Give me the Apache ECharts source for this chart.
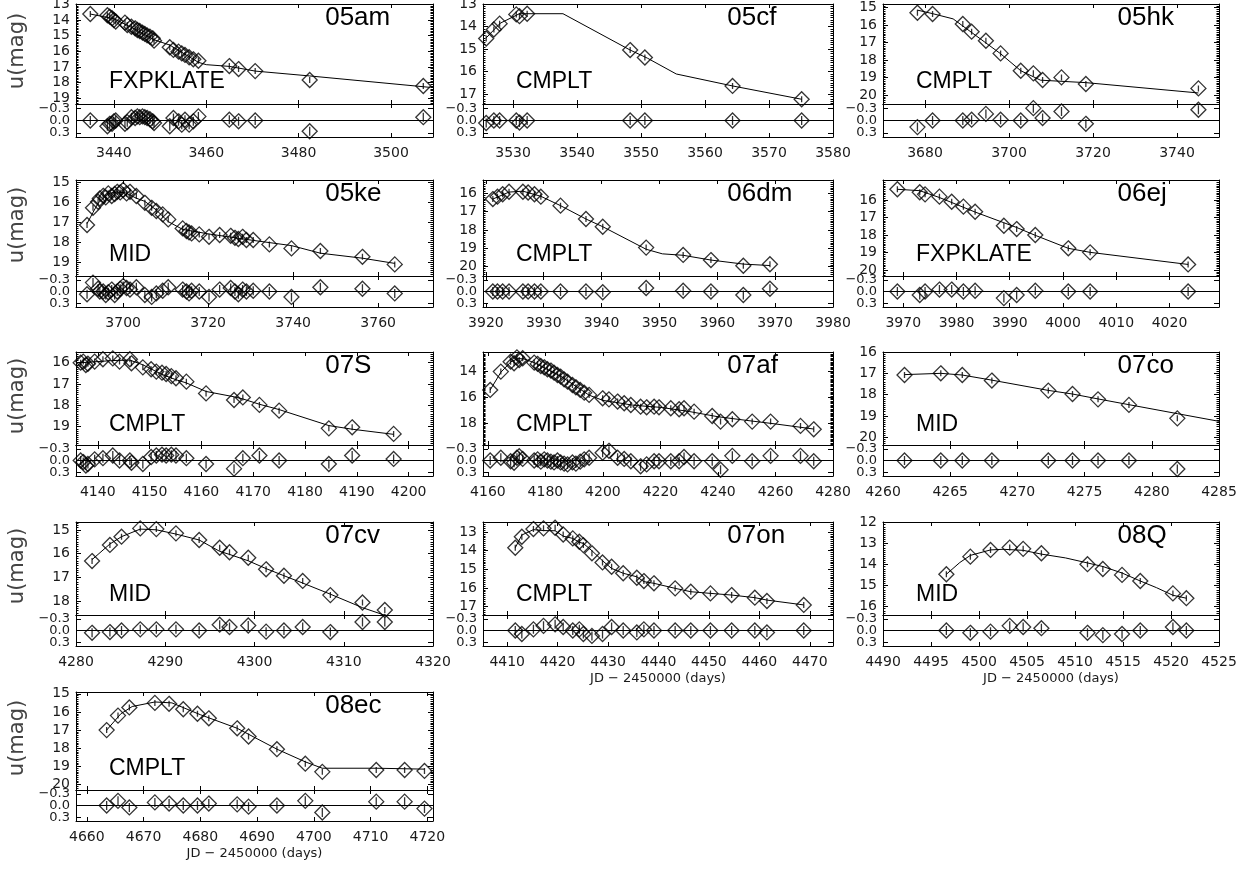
<!DOCTYPE html>
<html><head><meta charset="utf-8">
<script src="https://cdn.jsdelivr.net/npm/echarts@6/dist/echarts.min.js"></script>
<style>html,body{margin:0;padding:0;background:#fff}#c{width:1255px;height:873px}</style>
</head><body><div id="c"></div>
<script>
// ---------------- DATA ----------------
const x05am = [3434.9,3438.6,3439.1,3439.6,3440.0,3440.4,3442.4,3442.9,3443.8,3444.6,3445.1,3445.6,3446.2,3446.7,3447.2,3447.8,3448.4,3448.7,3452.1,3452.9,3454.0,3454.7,3455.4,3456.3,3457.2,3458.3,3465.0,3467.0,3470.6,3482.4,3507.0];
const m05am = [13.62,13.70,13.79,13.89,14.0,14.1,14.17,14.32,14.43,14.53,14.64,14.70,14.81,14.89,14.98,15.06,15.17,15.32,15.74,15.91,16.02,16.13,16.23,16.38,16.51,16.60,16.94,17.13,17.26,17.83,18.21];
const r05am = [0.0,0.14,0.08,0.08,0.02,0.0,0.08,0.04,-0.08,-0.06,-0.1,-0.08,-0.1,-0.08,-0.06,-0.03,0.02,0.06,0.14,-0.06,0.02,0.1,-0.02,0.1,0.02,-0.1,-0.02,0.02,0.0,0.26,-0.08];
const fx05am = [3434.9,3440,3444,3448.7,3452.1,3458.3,3460,3465,3470.6,3482.4,3508.5];
const fm05am = [13.62,13.92,14.5,15.26,15.6,16.7,16.85,16.96,17.26,17.57,18.3];
const x05cf = [3525.8,3527.0,3527.9,3530.5,3531.0,3532.2,3548.3,3550.6,3564.3,3575.1];
const m05cf = [14.53,14.13,13.87,13.46,13.54,13.43,15.04,15.37,16.63,17.22];
const r05cf = [0.06,0.0,0.0,0.0,0.05,0.0,0.0,0.0,0.0,0.0];
const fx05cf = [3525.8,3528,3531,3537.8,3548.3,3551,3555.5,3564.3,3575.1];
const fm05cf = [14.5,13.85,13.43,13.43,15.04,15.4,16.1,16.63,17.22];
const x05hk = [3678.2,3681.8,3689.0,3691.1,3694.5,3698.0,3702.8,3705.8,3708.0,3712.5,3718.3,3745.1];
const m05hk = [15.3,15.37,15.94,16.38,16.9,17.62,18.61,18.76,19.14,18.99,19.37,19.62];
const r05hk = [0.16,0.0,0.0,-0.02,-0.16,-0.02,0.0,-0.3,-0.06,-0.22,0.08,-0.26];
const fx05hk = [3678.2,3681.8,3686.7,3698.0,3702.8,3707.5,3718.3,3745.1];
const fm05hk = [15.15,15.35,15.65,17.64,18.61,19.15,19.29,19.88];
const x05ke = [3691.5,3692.9,3694.1,3694.5,3695.3,3695.9,3696.5,3697.3,3698.0,3698.6,3699.3,3700.0,3700.8,3701.6,3703.1,3705.1,3706.7,3707.8,3709.3,3710.6,3714.0,3714.9,3715.5,3716.1,3717.9,3720.2,3722.7,3725.3,3726.3,3727.1,3728.1,3729.0,3730.6,3734.4,3739.6,3746.4,3756.3,3763.9];
const m05ke = [17.13,16.27,15.97,15.8,15.67,15.75,15.55,15.68,15.58,15.47,15.5,15.38,15.55,15.47,15.68,16.02,16.27,16.43,16.6,16.85,17.3,17.43,17.5,17.55,17.6,17.72,17.63,17.67,17.77,17.83,17.72,17.88,17.88,18.1,18.3,18.43,18.72,19.1];
const r05ke = [0.07,-0.23,-0.07,0.0,0.0,0.09,0.02,-0.05,0.09,0.0,-0.07,-0.14,-0.09,-0.05,-0.11,0.09,0.14,0.05,-0.02,-0.11,-0.05,0.0,0.05,-0.02,0.0,0.14,-0.05,-0.09,0.0,0.07,-0.05,0.0,-0.02,0.0,0.14,-0.11,-0.07,0.05];
const fx05ke = [3691.5,3692.9,3694.1,3696.5,3698.5,3700.5,3703.1,3705.1,3707.8,3710.6,3714.0,3720.2,3730.6,3739.6,3746.4,3756.3,3763.9];
const fm05ke = [17.06,16.5,16.04,15.56,15.48,15.52,15.79,15.95,16.38,16.96,17.35,17.58,17.9,18.16,18.54,18.79,19.05];
const x06dm = [3921.2,3922.0,3922.9,3924.0,3926.4,3927.3,3928.4,3929.5,3932.9,3937.3,3940.2,3947.7,3954.1,3958.9,3964.5,3969.1];
const m06dm = [16.31,16.18,16.05,15.91,15.91,15.95,16.05,16.18,16.67,17.4,17.82,18.96,19.36,19.64,19.95,19.87];
const r06dm = [0,0,0,0,0,0,0,0,0,0,0.02,-0.09,-0.02,0,0.09,-0.07];
const fx06dm = [3921.2,3924.0,3926.4,3929.5,3932.9,3937.3,3940.2,3947.7,3950.5,3954.1,3958.9,3964.5,3969.1];
const fm06dm = [16.31,15.93,15.88,16.16,16.67,17.4,17.82,19.05,19.3,19.38,19.64,19.86,19.94];
const x06ej = [3968.9,3973.1,3974.1,3976.8,3979.1,3981.3,3983.5,3988.9,3991.3,3994.8,4001.0,4005.1,4023.5];
const m06ej = [15.39,15.56,15.68,15.81,16.1,16.38,16.67,17.47,17.66,18.0,18.76,18.99,19.68];
const r06ej = [0.0,0.09,0.0,-0.05,-0.05,0.0,-0.02,0.17,0.09,-0.02,0.0,0.0,0.0];
const fx06ej = [3968.9,3973.1,3976.8,3983.5,3988.9,3991.3,3994.8,4001.0,4005.1,4023.5];
const fm06ej = [15.39,15.47,15.86,16.69,17.3,17.57,18.02,18.76,18.99,19.68];
const x07S = [4136.7,4137.2,4137.7,4138.1,4139.4,4141.0,4142.9,4144.2,4146.2,4146.5,4148.7,4150.3,4151.3,4152.4,4153.2,4154.2,4155.1,4157.1,4160.9,4166.3,4168.0,4171.2,4175.0,4184.6,4189.1,4197.1];
const m07S = [16.0,15.95,16.11,16.05,15.95,15.84,15.8,15.95,15.84,16.03,16.22,16.31,16.42,16.47,16.53,16.63,16.73,16.89,17.44,17.75,17.63,17.98,18.25,19.08,19.03,19.34];
const r07S = [0.0,0.04,0.13,0.09,-0.03,-0.06,-0.13,0.0,0.0,0.06,0.09,-0.09,-0.13,-0.15,-0.13,-0.15,-0.13,-0.06,0.09,0.21,-0.06,-0.13,0.0,0.09,-0.13,-0.04];
const fx07S = [4136.7,4139.4,4142.9,4146.2,4148.7,4152.4,4155.1,4157.1,4160.9,4166.3,4168.0,4171.2,4175.0,4184.6,4189.1,4197.1];
const fm07S = [16.0,15.96,15.9,15.88,16.1,16.55,16.8,16.95,17.35,17.6,17.7,17.95,18.2,18.95,19.12,19.36];
const x07af = [4160.8,4164.5,4167.9,4169.1,4170.1,4170.9,4172.1,4176.1,4177.3,4178.4,4179.6,4180.7,4181.9,4183.0,4184.2,4185.3,4186.5,4187.7,4189.4,4190.6,4192.1,4193.5,4195.2,4199.9,4202.1,4205.1,4207.4,4209.7,4213.1,4215.2,4217.8,4219.5,4223.6,4226.5,4228.2,4231.7,4238.0,4240.9,4245.0,4251.9,4258.3,4268.7,4273.3];
const m07af = [15.45,14.05,13.29,13.41,12.96,13.16,13.03,13.36,13.46,13.62,13.72,13.87,13.97,14.13,14.31,14.43,14.64,14.82,15.07,15.25,15.45,15.66,15.83,16.09,16.17,16.34,16.47,16.6,16.73,16.78,16.73,16.78,16.85,16.93,16.85,17.11,17.44,17.87,17.69,17.87,17.87,18.2,18.46];
const r07af = [0.0,-0.07,0.02,0.06,-0.07,-0.11,-0.04,0.0,-0.03,0.03,-0.03,0.0,0.03,0.05,0.0,0.05,0.08,0.1,0.05,0.08,0.03,-0.03,-0.07,-0.2,-0.25,-0.07,-0.04,0.02,0.15,0.1,0.02,0.02,0.02,0.02,-0.09,0.02,0.02,0.24,-0.12,0.02,-0.12,-0.12,0.02];
const fx07af = [4160.8,4164.5,4168,4170.5,4172.5,4176.1,4185.3,4195.2,4200,4205,4210,4215,4220,4230,4240,4250,4260,4273.3];
const fm07af = [15.45,14.1,13.3,13.05,13.08,13.36,14.4,15.85,16.25,16.42,16.6,16.7,16.78,17.1,17.5,17.78,18.05,18.44];
const x07co = [4261.6,4264.3,4265.9,4268.1,4272.3,4274.1,4276.0,4278.3,4281.9];
const m07co = [17.08,17.0,17.08,17.34,17.81,17.97,18.22,18.48,19.11];
const r07co = [0,0,0,0,0,0,0,0,0.22];
const fx07co = [4261.6,4264.3,4265.9,4268.1,4272.3,4274.1,4276.0,4278.3,4281.9,4285];
const fm07co = [17.06,17.0,17.08,17.32,17.8,17.97,18.2,18.47,18.89,19.25];
const x07cv = [4281.8,4283.8,4285.1,4287.2,4289.0,4291.2,4293.8,4296.1,4297.2,4299.3,4301.3,4303.3,4305.4,4308.5,4312.1,4314.6];
const m07cv = [16.31,15.63,15.28,14.93,14.96,15.14,15.42,15.75,15.94,16.17,16.66,16.93,17.15,17.75,18.06,18.38];
const r07cv = [0.06,0.04,0.0,-0.03,-0.03,-0.03,0.0,-0.15,-0.09,-0.13,0.03,0.0,-0.09,0.04,-0.22,-0.22];
const fx07cv = [4281.8,4283.8,4285.1,4287.2,4289.0,4291.2,4293.8,4296.1,4297.2,4299.3,4301.3,4303.3,4305.4,4308.5,4312.1,4314.6];
const fm07cv = [16.25,15.59,15.28,14.96,14.99,15.17,15.42,15.9,16.03,16.3,16.63,16.93,17.24,17.71,18.28,18.6];
const x07on = [4411.6,4412.9,4415.2,4417.2,4419.5,4421.1,4423.0,4424.3,4425.1,4426.8,4428.9,4430.7,4433.0,4435.7,4437.1,4439.1,4443.3,4446.4,4450.3,4454.5,4459.1,4461.5,4468.8];
const m07on = [13.84,13.25,12.84,12.8,12.77,13.13,13.34,13.52,13.7,14.14,14.63,14.86,15.21,15.45,15.63,15.75,16.02,16.2,16.29,16.38,16.52,16.7,16.91];
const r07on = [0.0,0.09,-0.03,-0.12,-0.16,-0.09,0.0,-0.03,0.09,0.14,0.09,-0.09,0.0,0.05,-0.03,0.0,0.0,0.0,0.0,0.0,0.0,0.05,0.0];
const fx07on = [4411.6,4412.9,4415.2,4417.2,4419.5,4421.1,4423.0,4424.3,4425.1,4426.8,4428.9,4430.7,4433.0,4435.7,4437.1,4439.1,4443.3,4446.4,4450.3,4454.5,4459.1,4461.5,4468.8];
const fm07on = [13.84,13.16,12.87,12.92,12.93,13.22,13.34,13.55,13.61,14.0,14.54,14.95,15.21,15.4,15.66,15.75,16.02,16.2,16.29,16.38,16.52,16.65,16.91];
const x08Q = [4496.6,4499.1,4501.2,4503.2,4504.6,4506.5,4511.3,4512.9,4514.9,4516.8,4520.2,4521.6];
const m08Q = [14.46,13.62,13.3,13.19,13.25,13.46,13.98,14.21,14.49,14.78,15.37,15.6];
const r08Q = [0.0,0.06,0.03,-0.12,-0.09,-0.06,0.06,0.12,0.09,0.0,-0.09,0.0];
const fx08Q = [4496.6,4498,4499.1,4501.2,4502.5,4504.6,4506.5,4509,4511.3,4512.9,4514.9,4516.8,4518.5,4520.2,4521.6];
const fm08Q = [14.46,13.9,13.56,13.3,13.27,13.32,13.5,13.68,13.92,14.09,14.4,14.78,15.1,15.46,15.6];
const x08ec = [4663.5,4665.5,4667.5,4672.0,4674.5,4677.0,4679.5,4681.5,4686.5,4688.5,4693.5,4698.5,4701.5,4711.0,4716.0,4719.5];
const m08ec = [17.0,16.2,15.75,15.5,15.55,15.85,16.1,16.35,16.9,17.35,18.05,18.85,19.3,19.2,19.2,19.25];
const r08ec = [0.0,-0.12,0.05,-0.08,-0.05,0.0,0.0,-0.05,-0.03,0.03,0.0,-0.12,0.18,-0.1,-0.1,0.08];
const fx08ec = [4663.5,4666,4668,4672,4675,4680,4686.5,4693.5,4698.5,4701.5,4711,4719.5];
const fm08ec = [17.0,16.1,15.7,15.45,15.5,16.15,16.9,18.05,18.75,19.1,19.1,19.15];

const xt05am=[3440,3460,3480,3500], yt05am=[13,14,15,16,17,18,19];
const xt05cf=[3530,3540,3550,3560,3570,3580], yt05cf=[13,14,15,16,17];
const xt05hk=[3680,3700,3720,3740], yt05hk=[15,16,17,18,19,20];
const xt05ke=[3700,3720,3740,3760], yt05ke=[15,16,17,18,19];
const xt06dm=[3920,3930,3940,3950,3960,3970,3980], yt06dm=[16,17,18,19,20];
const xt06ej=[3970,3980,3990,4000,4010,4020], yt06ej=[16,17,18,19,20];
const xt07S=[4140,4150,4160,4170,4180,4190,4200], yt07S=[16,17,18,19];
const xt07af=[4160,4180,4200,4220,4240,4260,4280], yt07af=[14,16,18];
const xt07co=[4260,4265,4270,4275,4280,4285], yt07co=[16,17,18,19,20];
const xt07cv=[4280,4290,4300,4310,4320], yt07cv=[15,16,17,18];
const xt07on=[4410,4420,4430,4440,4450,4460,4470], yt07on=[13,14,15,16,17];
const xt08Q=[4490,4495,4500,4505,4510,4515,4520,4525], yt08Q=[12,13,14,15,16];
const xt08ec=[4660,4670,4680,4690,4700,4710,4720], yt08ec=[15,16,17,18,19,20];
const resTicks=[-0.3,0,0.3];
const resLabels=['\u22120.3','0.0','0.3'];

// ---------------- LAYOUT ----------------
const COLS=[{l:76,r:433},{l:483,r:833},{l:883,r:1219}];
const ROWS=[{t:4,s:104,b:137},{t:180,s:276,b:307},{t:352,s:445,b:476},{t:522,s:615,b:646},{t:692,s:790,b:821}];

const panels=[
 {id:'05am',type:'FXPKLATE',col:0,row:0,x:x05am,m:m05am,r:r05am,fx:fx05am,fm:fm05am,xt:xt05am,yt:yt05am,xr:[3431.8,3509.1],yr:[12.98,19.36]},
 {id:'05cf',type:'CMPLT',col:1,row:0,x:x05cf,m:m05cf,r:r05cf,fx:fx05cf,fm:fm05cf,xt:xt05cf,yt:yt05cf,xr:[3525.3,3580],yr:[13.0,17.43]},
 {id:'05hk',type:'CMPLT',col:2,row:0,x:x05hk,m:m05hk,r:r05hk,fx:fx05hk,fm:fm05hk,xt:xt05hk,yt:yt05hk,xr:[3670,3750],yr:[14.8,20.51]},
 {id:'05ke',type:'MID',col:0,row:1,x:x05ke,m:m05ke,r:r05ke,fx:fx05ke,fm:fm05ke,xt:xt05ke,yt:yt05ke,xr:[3688.9,3772.9],yr:[14.88,19.68]},
 {id:'06dm',type:'CMPLT',col:1,row:1,x:x06dm,m:m06dm,r:r06dm,fx:fx06dm,fm:fm06dm,xt:xt06dm,yt:yt06dm,xr:[3919.5,3980],yr:[15.27,20.51]},
 {id:'06ej',type:'FXPKLATE',col:2,row:1,x:x06ej,m:m06ej,r:r06ej,fx:fx06ej,fm:fm06ej,xt:xt06ej,yt:yt06ej,xr:[3966.2,4029.3],yr:[14.86,20.34]},
 {id:'07S',type:'CMPLT',col:0,row:2,x:x07S,m:m07S,r:r07S,fx:fx07S,fm:fm07S,xt:xt07S,yt:yt07S,xr:[4135.8,4204.7],yr:[15.5,19.86]},
 {id:'07af',type:'CMPLT',col:1,row:2,x:x07af,m:m07af,r:r07af,fx:fx07af,fm:fm07af,xt:xt07af,yt:yt07af,xr:[4158.3,4280],yr:[12.55,19.66]},
 {id:'07co',type:'MID',col:2,row:2,x:x07co,m:m07co,r:r07co,fx:fx07co,fm:fm07co,xt:xt07co,yt:yt07co,xr:[4260,4285],yr:[16.0,20.36]},
 {id:'07cv',type:'MID',col:0,row:3,x:x07cv,m:m07cv,r:r07cv,fx:fx07cv,fm:fm07cv,xt:xt07cv,yt:yt07cv,xr:[4280,4320],yr:[14.66,18.59]},
 {id:'07on',type:'CMPLT',col:1,row:3,x:x07on,m:m07on,r:r07on,fx:fx07on,fm:fm07on,xt:xt07on,yt:yt07on,xr:[4405.2,4474.6],yr:[12.46,17.45]},
 {id:'08Q',type:'MID',col:2,row:3,x:x08Q,m:m08Q,r:r08Q,fx:fx08Q,fm:fm08Q,xt:xt08Q,yt:yt08Q,xr:[4490,4525],yr:[11.97,16.4]},
 {id:'08ec',type:'CMPLT',col:0,row:4,x:x08ec,m:m08ec,r:r08ec,fx:fx08ec,fm:fm08ec,xt:xt08ec,yt:yt08ec,xr:[4658.1,4721],yr:[14.9,20.3]}
];
const xTitlePanels=['08ec','07on','08Q'];

// ---------------- BUILD ----------------
const FONT_FAMILY='DejaVu Sans';
const TICKCOLOR='#1a1a1a';
const DIAM='path://M0,-10L10,0L0,10L-10,0ZM0,-4L0,4';
const DIAMR='path://M0,-10L10,0L0,10L-10,0ZM0,-6L0,6';
const grid=[],xAxis=[],yAxis=[],series=[],graphic=[];
function minors(a,b,step){const o=[];const s=Math.ceil(a/step-1e-9);for(let k=s;k*step<=b+1e-9;k++)o.push(+(k*step).toFixed(4));return o;}
const intFmt=v=>String(Math.round(v));
function xa(gi,pos,p,labels){
  return {gridIndex:gi,type:'value',position:pos,min:p.xr[0],max:p.xr[1],
    axisLine:{show:true,onZero:false,lineStyle:{color:'#000',width:1}},
    axisTick:{show:true,inside:true,length:4,customValues:p.xt,lineStyle:{color:'#000',width:1}},
    axisLabel:{show:labels,customValues:p.xt,margin:9,formatter:intFmt,fontFamily:FONT_FAMILY,fontSize:14,color:TICKCOLOR,hideOverlap:false},
    splitLine:{show:false}};
}
function ya(gi,pos,min,max,ticks,len,line){
  return {gridIndex:gi,type:'value',position:pos,inverse:true,min:min,max:max,
    axisLine:{show:line,onZero:false,lineStyle:{color:'#000',width:1}},
    axisTick:{show:true,inside:true,length:len,customValues:ticks,lineStyle:{color:'#000',width:1}},
    axisLabel:{show:false},splitLine:{show:false}};
}
const labelBlocks=[];
panels.forEach(p=>{
  const C=COLS[p.col],R=ROWS[p.row],W=C.r-C.l;
  const gM=grid.length; grid.push({left:C.l,top:R.t,width:W,height:R.s-R.t,containLabel:false,outerBoundsMode:'none'});
  const gR=grid.length; grid.push({left:C.l,top:R.s,width:W,height:R.b-R.s,containLabel:false,outerBoundsMode:'none'});
  const xi=xAxis.length;
  xAxis.push(xa(gM,'bottom',p,false),xa(gM,'top',p,false),xa(gR,'bottom',p,true),xa(gR,'top',p,false));
  const yi=yAxis.length;
  const mn=minors(p.yr[0],p.yr[1],0.1);
  yAxis.push(
    ya(gM,'left',p.yr[0],p.yr[1],p.yt,5,true),
    ya(gM,'right',p.yr[0],p.yr[1],p.yt,5,true),
    ya(gM,'left',p.yr[0],p.yr[1],mn,2.5,false),
    ya(gM,'right',p.yr[0],p.yr[1],mn,2.5,false),
    ya(gR,'left',-0.4,0.4,resTicks,5,true),
    ya(gR,'right',-0.4,0.4,resTicks,5,true)
  );
  // evenly spaced tick labels drawn as one block per axis, spacing taken from the axis scale
  labelBlocks.push({axis:yi,vals:p.yt,texts:p.yt.map(String),x:C.l-6,size:14});
  labelBlocks.push({axis:yi+4,vals:resTicks,texts:resLabels,x:C.l-6,size:13});
  series.push({type:'line',xAxisIndex:xi,yAxisIndex:yi,data:p.fx.map((v,i)=>[v,p.fm[i]]),
    showSymbol:false,symbol:'none',lineStyle:{color:'#000',width:1},silent:true,z:2});
  series.push({type:'scatter',xAxisIndex:xi,yAxisIndex:yi,data:p.x.map((v,i)=>[v,p.m[i]]),
    symbol:DIAM,symbolSize:15,symbolKeepAspect:true,
    itemStyle:{color:'rgba(0,0,0,0)',borderColor:'#000',borderWidth:1.3},silent:true,z:3});
  series.push({type:'scatter',xAxisIndex:xi+2,yAxisIndex:yi+4,data:p.x.map((v,i)=>[v,p.r[i]]),
    symbol:DIAMR,symbolSize:15,symbolKeepAspect:true,
    itemStyle:{color:'rgba(0,0,0,0)',borderColor:'#000',borderWidth:1.3},silent:true,z:3,
    markLine:{silent:true,symbol:'none',data:[{yAxis:0}],label:{show:false},
      lineStyle:{color:'#000',width:1,type:'solid'}}});
  graphic.push({type:'text',x:C.l+0.698*W,y:R.t+14,silent:true,
    style:{text:p.id,font:'26px "Liberation Sans"',fill:'#000',textAlign:'left',textVerticalAlign:'middle'}});
  graphic.push({type:'text',x:C.l+33,y:R.t+0.78*(R.s-R.t),silent:true,
    style:{text:p.type,font:'23px "Liberation Sans"',fill:'#000',textAlign:'left',textVerticalAlign:'middle'}});
  if(p.col===0){
    graphic.push({type:'text',x:18,y:Math.round((R.t+R.s)/2)-3,rotation:Math.PI/2,silent:true,
      style:{text:'u(mag)',font:'21px "DejaVu Sans"',fill:'#444',textAlign:'center',textVerticalAlign:'middle'}});
  }
  if(xTitlePanels.indexOf(p.id)>=0){
    graphic.push({type:'text',x:(C.l+C.r)/2,y:R.b+33,silent:true,
      style:{text:'JD \u2212 2450000 (days)',font:'13px "DejaVu Sans"',fill:TICKCOLOR,textAlign:'center',textVerticalAlign:'middle'}});
  }
});

const chart=echarts.init(document.getElementById('c'),null,{renderer:'canvas'});
chart.setOption({animation:false,backgroundColor:'#fff',grid,xAxis,yAxis,series,graphic});
const labelEls=labelBlocks.map((b,k)=>{
  const p0=Number(chart.convertToPixel({yAxisIndex:b.axis},b.vals[0]));
  const p1=Number(chart.convertToPixel({yAxisIndex:b.axis},b.vals[1]));
  const step=p1-p0;
  return {type:'text',id:'yblock'+k,x:b.x,y:p0-step/2,silent:true,z:50,
    style:{text:b.texts.join('\n'),font:b.size+'px "'+FONT_FAMILY+'"',lineHeight:step,
      fill:TICKCOLOR,textAlign:'right',textVerticalAlign:'top'}};
});
chart.setOption({graphic:graphic.concat(labelEls)});
</script>
</body></html>
